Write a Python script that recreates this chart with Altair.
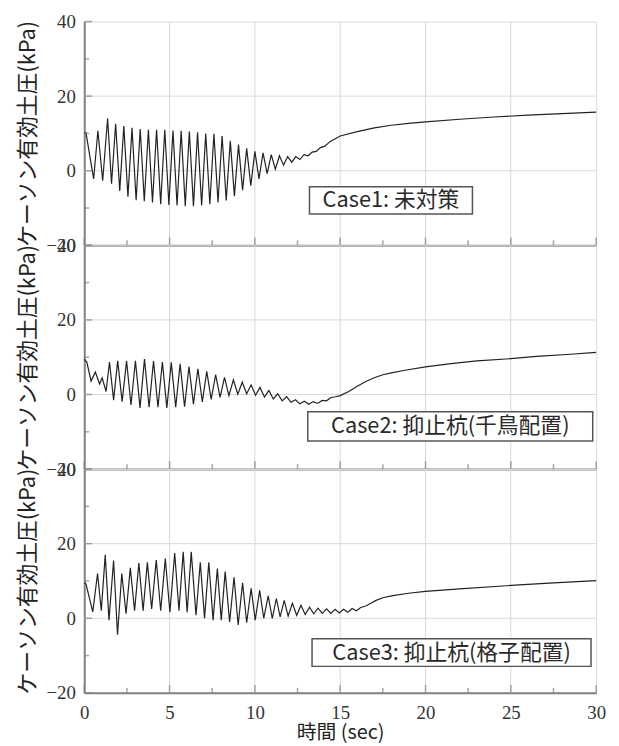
import altair as alt
import pandas as pd

# ---------------- data ----------------
X_TICKS = [0, 5, 10, 15, 20, 25, 30]
X_MINOR = [2.5, 7.5, 12.5, 17.5, 22.5, 27.5]
Y_TICKS = [-20, 0, 20, 40]
Y_MINOR = [-10, 10, 30]
X_GRID = [5, 10, 15, 20, 25]
Y_GRID = [0, 20]

CASE_LABELS = ["Case1: 未対策", "Case2: 抑止杭(千鳥配置)", "Case3: 抑止杭(格子配置)"]
X_TITLE = "時間 (sec)"
Y_TITLE = "ケーソン有効土圧(kPa)"

CASE1_T = [0.00, 0.10, 0.55, 0.80, 1.08, 1.37, 1.60, 1.84, 2.08, 2.32, 2.56, 2.80,
           3.04, 3.28, 3.52, 3.76, 4.00, 4.24, 4.48, 4.72, 4.96, 5.20, 5.44, 5.68,
           5.92, 6.16, 6.40, 6.64, 6.88, 7.12, 7.36, 7.60, 7.84, 8.08, 8.32, 8.56,
           8.80, 9.04, 9.28, 9.52, 9.76, 10.00, 10.24, 10.48, 10.72, 10.96, 11.20,
           11.44, 11.68, 11.92, 12.16, 12.40, 12.64, 12.88, 13.12, 13.36, 13.60,
           13.84, 14.10, 14.40, 15.0, 16.0, 17.0, 18.0, 19.0, 20.0, 22.0, 24.0,
           26.0, 28.0, 30.0]
CASE1_V = [10.0, 10.2, -2.2, 10.7, -2.7, 14.0, -3.5, 12.6, -5.4, 12.0, -7.0, 11.5,
           -7.9, 11.2, -8.2, 11.0, -8.5, 11.0, -9.0, 11.0, -9.2, 10.8, -9.3, 10.7,
           -9.5, 10.5, -9.5, 10.3, -9.3, 10.0, -9.0, 9.9, -8.5, 9.3, -8.0, 8.0,
           -6.8, 7.0, -5.2, 6.0, -4.0, 5.2, -2.2, 4.8, -0.8, 4.3, 0.4,
           4.0, 1.5, 3.8, 2.3, 3.8, 3.0, 4.3, 4.0, 5.0, 5.2,
           6.2, 6.6, 7.8, 9.3, 10.5, 11.5, 12.2, 12.7, 13.1, 13.8, 14.4,
           14.9, 15.3, 15.7]

CASE2_T = [0.00, 0.15, 0.40, 0.65, 0.90, 1.05, 1.28, 1.48, 1.72, 1.96, 2.22, 2.48,
           2.74, 3.00, 3.27, 3.53, 3.80, 4.06, 4.32, 4.58, 4.84, 5.10, 5.36, 5.62,
           5.88, 6.14, 6.40, 6.66, 6.92, 7.18, 7.44, 7.70, 7.96, 8.22, 8.48, 8.74,
           9.00, 9.26, 9.52, 9.78, 10.04, 10.30, 10.56, 10.82, 11.08, 11.34, 11.60,
           11.86, 12.12, 12.38, 12.64, 12.90, 13.16, 13.42, 13.68, 13.94, 14.20,
           14.46, 14.72, 15.0, 15.5, 16.0, 16.5, 17.0, 17.5, 18.0, 18.8, 20.0,
           21.5, 23.0, 25.0, 26.5, 28.5, 30.0]
CASE2_V = [9.5, 8.7, 3.6, 6.0, 2.8, 4.5, 0.8, 8.7, -1.5, 9.0, -1.9, 9.0,
           -2.8, 9.0, -3.6, 9.5, -3.4, 9.0, -3.4, 8.7, -3.6, 8.6, -3.4, 8.2,
           -3.3, 7.5, -2.6, 6.9, -2.0, 6.2, -1.3, 5.3, -0.8, 4.6, -0.3, 3.9,
           0.1, 3.3, 0.2, 2.6, -0.2, 1.9, -0.7, 1.1, -1.2, 0.2, -1.7,
           -0.6, -2.1, -1.4, -2.5, -1.8, -2.6, -1.9, -2.4, -1.6, -1.7,
           -0.8, -0.6, -0.3, 0.8, 2.2, 3.5, 4.5, 5.3, 5.8, 6.5, 7.4,
           8.3, 9.0, 9.6, 10.2, 10.8, 11.3]

CASE3_T = [0.00, 0.10, 0.50, 0.78, 1.00, 1.23, 1.45, 1.72, 1.95, 2.20, 2.45, 2.70,
           2.95, 3.20, 3.45, 3.70, 3.95, 4.22, 4.48, 4.75, 5.02, 5.30, 5.55, 5.80,
           6.03, 6.27, 6.55, 6.80, 7.05, 7.30, 7.55, 7.80, 8.03, 8.26, 8.52, 8.78,
           9.02, 9.28, 9.52, 9.78, 10.02, 10.28, 10.52, 10.78, 11.02, 11.26, 11.48,
           11.72, 11.95, 12.20, 12.45, 12.70, 12.95, 13.20, 13.45, 13.70, 13.95,
           14.20, 14.45, 14.70, 14.95, 15.20, 15.45, 15.70, 15.95, 16.20, 16.50,
           16.80, 17.10, 17.50, 18.0, 19.0, 20.0, 22.0, 25.0, 27.5, 30.0]
CASE3_V = [9.5, 9.2, 1.7, 12.0, 2.0, 17.0, -0.5, 15.5, -4.4, 12.0, 1.2, 13.5,
           2.0, 14.8, 2.0, 15.0, 2.5, 15.6, 2.0, 16.0, 1.6, 17.5, 2.0, 17.8,
           1.6, 17.8, 0.8, 15.0, 0.0, 15.0, -0.5, 13.3, -0.5, 12.5, -1.0, 11.0,
           -1.8, 9.5, -1.2, 8.0, -0.5, 7.5, 0.0, 6.0, 0.0, 5.3, 0.4,
           4.8, 0.6, 4.0, 0.8, 3.5, 1.0, 3.0, 1.2, 2.7, 1.3,
           2.5, 1.3, 2.4, 1.4, 2.4, 1.6, 2.6, 2.0, 2.9, 3.3,
           4.0, 4.8, 5.5, 6.0, 6.7, 7.2, 7.9, 8.8, 9.5, 10.1]

# ---------------- style ----------------
CJK = "Noto Sans CJK JP"
SERIF = "Liberation Serif"
AXIS_C = "#808080"
GRID_C = "#d9d9d9"
LINE_C = "#222222"
W, H = 517, 226

# label boxes in data coordinates (x0, x1, y0, y1)
BOXES = [(13.2, 22.75, -4.3, -11.6), (13.1, 29.8, -4.6, -12.5), (13.35, 29.7, -5.5, -12.9)]


def panel(t, v, label, box, bottom):
    xs = alt.Scale(domain=[0, 30], nice=False, zero=False)
    ys = alt.Scale(domain=[-20, 40], nice=False, zero=False)
    xkw = dict(values=X_TICKS, grid=False, ticks=False, domainColor=AXIS_C,
               domainWidth=2, labels=bottom, labelFlush=False)
    if bottom:
        xkw.update(labelFont=SERIF, labelFontSize=19, labelColor="#333",
                   labelPadding=11, title=X_TITLE, titleFont=CJK, titleFontSize=20,
                   titleFontWeight="normal", titleColor="#222", titlePadding=0)
    else:
        xkw.update(title=None)
    xaxis = alt.Axis(**xkw)
    yaxis = alt.Axis(values=Y_TICKS, grid=False, ticks=False, domainColor=AXIS_C,
                     domainWidth=2, labelFont=SERIF, labelFontSize=19,
                     labelColor="#333", labelPadding=9, labelFlush=False,
                     title=Y_TITLE, titleFont=CJK, titleFontSize=22,
                     titleFontWeight="normal", titleColor="#222", titlePadding=7)
    X = alt.X("t:Q", scale=xs, axis=xaxis)
    Y = alt.Y("v:Q", scale=ys, axis=yaxis)

    grid_v = alt.Chart(pd.DataFrame({"t": X_GRID})).mark_rule(
        color=GRID_C, strokeWidth=1).encode(x=X)
    grid_h = alt.Chart(pd.DataFrame({"v": Y_GRID})).mark_rule(
        color=GRID_C, strokeWidth=1).encode(y=Y)
    line = alt.Chart(pd.DataFrame({"t": t, "v": v})).mark_line(
        color=LINE_C, strokeWidth=1.2).encode(x=X, y=Y)
    lab = pd.DataFrame({"label": [label]})
    rect = alt.Chart(lab).mark_rect(fill="white", stroke="#555", strokeWidth=1.5).encode(
        x=alt.datum(box[0]), x2=alt.datum(box[1]),
        y=alt.datum(box[2]), y2=alt.datum(box[3]))
    text = alt.Chart(lab).mark_text(font=CJK, fontSize=22, color="#2a2a2a").encode(
        x=alt.datum((box[0] + box[1]) / 2), y=alt.datum((box[2] + box[3]) / 2),
        text="label:N")
    xt_major = alt.Chart(pd.DataFrame({"t": X_TICKS})).mark_tick(
        orient="vertical", size=8, thickness=1.5, color=AXIS_C, yOffset=-4).encode(
        x=X, y=alt.datum(-20))
    xt_minor = alt.Chart(pd.DataFrame({"t": X_MINOR})).mark_tick(
        orient="vertical", size=5, thickness=1.5, color=AXIS_C, yOffset=-2.5).encode(
        x=X, y=alt.datum(-20))
    yt_major = alt.Chart(pd.DataFrame({"v": Y_TICKS})).mark_tick(
        orient="horizontal", size=8, thickness=1.5, color=AXIS_C, xOffset=4).encode(
        y=Y, x=alt.datum(0))
    yt_minor = alt.Chart(pd.DataFrame({"v": Y_MINOR})).mark_tick(
        orient="horizontal", size=5, thickness=1.5, color=AXIS_C, xOffset=2.5).encode(
        y=Y, x=alt.datum(0))
    return alt.layer(grid_v, grid_h, line, rect, text, xt_major, xt_minor,
                     yt_major, yt_minor).properties(width=W, height=H)


panels = [
    panel(CASE1_T, CASE1_V, CASE_LABELS[0], BOXES[0], False),
    panel(CASE2_T, CASE2_V, CASE_LABELS[1], BOXES[1], False),
    panel(CASE3_T, CASE3_V, CASE_LABELS[2], BOXES[2], True),
]

chart = alt.vconcat(*panels, spacing=0, bounds="flush").properties(
    padding={"left": 7, "top": 0, "right": 5, "bottom": 0}
).configure_view(strokeWidth=0).configure(background="white")

chart.save("out.html", embed_options={"renderer": "svg", "actions": False})
